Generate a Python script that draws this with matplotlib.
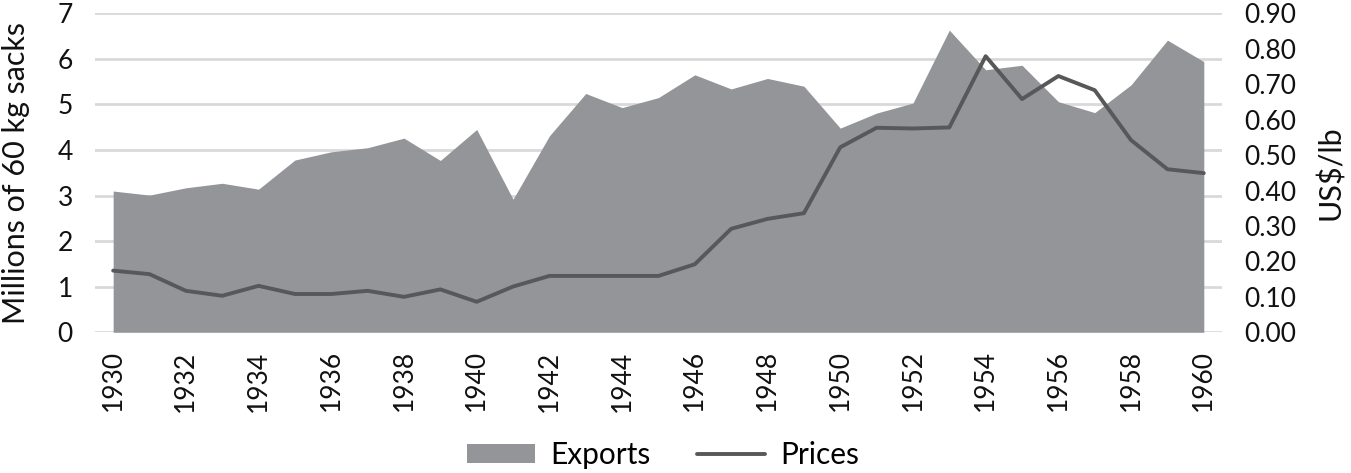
import numpy as np
import matplotlib.pyplot as plt

plt.rcParams['font.family'] = ['Lato', 'DejaVu Sans']

years = list(range(1930, 1961))

# exports, millions of 60 kg sacks (left axis)
exports = [3.10, 3.01, 3.17, 3.27, 3.14, 3.78, 3.96, 4.05, 4.26, 3.77,
           4.45, 2.92, 4.31, 5.24, 4.93, 5.15, 5.65, 5.34, 5.57, 5.40,
           4.48, 4.81, 5.03, 6.63, 5.76, 5.86, 5.06, 4.82, 5.43, 6.41,
           5.94]

# prices, US$/lb (right axis)
prices = [0.174, 0.164, 0.117, 0.103, 0.131, 0.108, 0.108, 0.117, 0.100, 0.121,
          0.086, 0.129, 0.159, 0.159, 0.159, 0.159, 0.192, 0.292, 0.320, 0.336,
          0.522, 0.577, 0.575, 0.578, 0.779, 0.658, 0.723, 0.683, 0.542, 0.460,
          0.449]

left_ticks = list(range(0, 8))
right_ticks = [i / 10 for i in range(10)]

area_color = '#939598'
line_color = '#58585a'
grid_color = '#d9d9d9'
text_color = '#111111'

fig = plt.figure(figsize=(13.51, 4.73), dpi=100)
ax = fig.add_axes([0.0703, 0.2975, 0.8342, 0.6744])
ax2 = ax.twinx()

ax.fill_between(years, exports, 0, color=area_color, linewidth=0, label='Exports', zorder=2)
ax2.plot(years, prices, color=line_color, linewidth=2.8, solid_capstyle='round', label='Prices')

ax.set_xlim(1929.5, 1960.5)
ax.set_ylim(0, 7)
ax2.set_ylim(0, 0.9)

ax.set_yticks(left_ticks)
ax.set_yticklabels([str(t) for t in left_ticks])
ax2.set_yticks(right_ticks)
ax2.set_yticklabels(['%.2f' % t for t in right_ticks])
ax.set_xticks(years[::2])
ax.set_xticklabels([str(y) for y in years[::2]], rotation=90)

ax.grid(axis='y', color=grid_color, linewidth=2, zorder=0)
ax.set_axisbelow(True)

for a in (ax, ax2):
    for s in a.spines.values():
        s.set_visible(False)
    a.tick_params(length=0, labelsize=19, colors=text_color)
ax.tick_params(axis='y', pad=16)
ax.tick_params(axis='x', pad=13)
ax2.tick_params(axis='y', pad=16)

ax.set_ylabel('Millions of 60 kg sacks', fontsize=22, color=text_color, va='center')
ax.yaxis.set_label_coords(-0.0701, 0.5)
ax2.set_ylabel('US$/lb', fontsize=22, color=text_color, va='center')
ax2.yaxis.set_label_coords(1.0967, 0.5)

h1, l1 = ax.get_legend_handles_labels()
h2, l2 = ax2.get_legend_handles_labels()
fig.legend(h1 + h2, l1 + l2, loc='center', bbox_to_anchor=(0.491, 0.038), ncol=2,
           frameon=False, fontsize=21.5, handlelength=2.25, handleheight=0.6,
           columnspacing=1.57, handletextpad=0.53)

fig.savefig('out.png', dpi=100)
